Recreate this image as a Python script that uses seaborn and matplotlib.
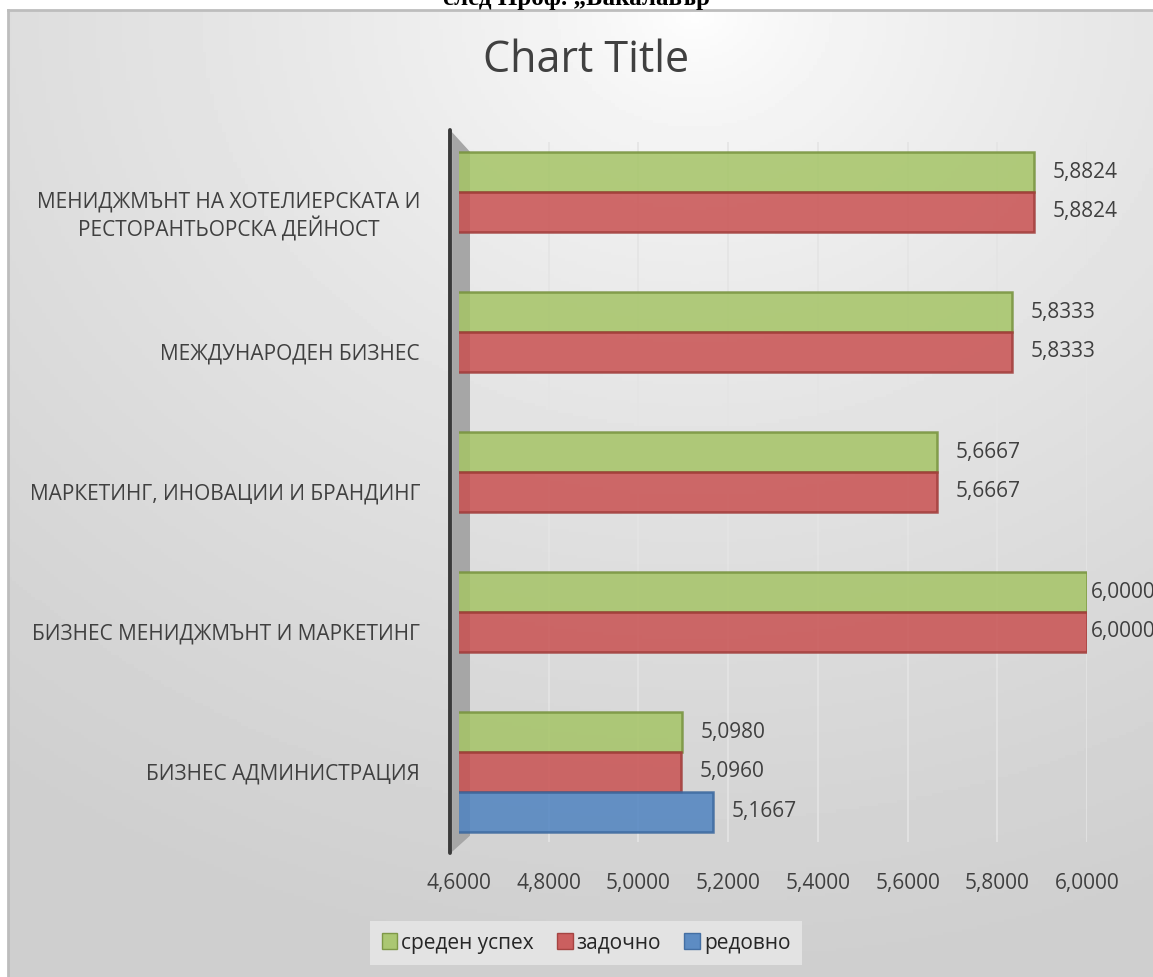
# ==============================
# SETUP
# ==============================
import numpy as np
import pandas as pd
import matplotlib
matplotlib.use("Agg")
import matplotlib.pyplot as plt
from matplotlib.patches import Patch, Polygon
from matplotlib.lines import Line2D
import seaborn as sns

sns.set_style("white")
plt.rcParams["font.family"] = ["Open Sans", "DejaVu Sans"]

# ==============================
# DATA
# ==============================
programs = [
    "МЕНИДЖМЪНТ НА ХОТЕЛИЕРСКАТА И\nРЕСТОРАНТЬОРСКА ДЕЙНОСТ",
    "МЕЖДУНАРОДЕН БИЗНЕС",
    "МАРКЕТИНГ, ИНОВАЦИИ И БРАНДИНГ",
    "БИЗНЕС МЕНИДЖМЪНТ И МАРКЕТИНГ",
    "БИЗНЕС АДМИНИСТРАЦИЯ",
]
sreden_uspeh = [5.8824, 5.8333, 5.6667, 6.0000, 5.0980]
zadochno = [5.8824, 5.8333, 5.6667, 6.0000, 5.0960]
redovno = [np.nan, np.nan, np.nan, np.nan, 5.1667]

series_names = ["среден успех", "задочно", "редовно"]
x_ticks = [4.6, 4.8, 5.0, 5.2, 5.4, 5.6, 5.8, 6.0]

colors = {"среден успех": "#a5c466", "задочно": "#c95151", "редовно": "#4f83c0"}
edges = {"среден успех": "#76923c", "задочно": "#a03a38", "редовно": "#3a679e"}

rows = []
for name, vals in zip(series_names, [sreden_uspeh, zadochno, redovno]):
    for prog, v in zip(programs, vals):
        rows.append({"program": prog, "form": name, "score": v})
df = pd.DataFrame(rows).dropna()

def fmt_bg(v):
    return f"{v:.4f}".replace(".", ",")

# ==============================
# FIGURE + BACKGROUND
# ==============================
W, H = 1153, 977
fig = plt.figure(figsize=(W / 100, H / 100), dpi=100)

# cut-off heading from the page above the chart
fig.text(0.5, 1 - 5 / H, "след Проф. „Бакалавър", ha="center", va="baseline",
         fontsize=18, fontweight="bold", family=["Liberation Serif", "DejaVu Serif"],
         color="black")

bg = fig.add_axes([8 / W, 0, 1 - 8 / W, 1 - 10 / H], zorder=-5)
gx, gy = np.meshgrid(np.linspace(0, 1, 300), np.linspace(0, 1, 300))
d = np.sqrt(((gx - 0.6) / 1.0) ** 2 + ((gy - 1.0) / 1.0) ** 2)
shade = 1 - 0.19 * np.clip(d, 0, 1) ** 0.7
bg.imshow(shade, cmap="gray", vmin=0, vmax=1, origin="lower", aspect="auto",
          extent=[0, 1, 0, 1])
bg.set_xticks([])
bg.set_yticks([])
for side in ["right", "bottom"]:
    bg.spines[side].set_visible(False)
for side in ["top", "left"]:
    bg.spines[side].set_color("#bdbdbd")
    bg.spines[side].set_linewidth(2)

fig.text(586 / W, 1 - 61 / H, "Chart Title", ha="center", va="center",
         fontsize=31, color="#404040")

# ==============================
# BARS
# ==============================
ax = fig.add_axes([459 / W, 1 - 842 / H, 628 / W, 700 / H])
ax.patch.set_alpha(0)

sns.barplot(data=df, y="program", x="score", hue="form", order=programs,
            hue_order=series_names, orient="h", width=0.857, errorbar=None,
            palette=colors, saturation=1, alpha=0.85, ax=ax, zorder=3)
ax.legend_.remove()

for cont, name in zip(ax.containers, series_names):
    for bar in cont:
        bar.set_edgecolor(edges[name])
        bar.set_linewidth(1.8)
    anns = ax.bar_label(cont, fmt=fmt_bg, padding=13, fontsize=15,
                        color="#404040", clip_on=False)
    # labels of the bars that reach the axis end sit tight against the bar
    for bar, ann in zip(cont, anns):
        if bar.get_width() >= 6.0:
            ann.xyann = (3, 0)

ax.set_xlim(4.6, 6.0)
ax.set_xticks(x_ticks)
ax.set_xticklabels([fmt_bg(t) for t in x_ticks])
ax.set_xlabel("")
ax.set_ylabel("")
ax.tick_params(axis="x", length=0, pad=22, labelsize=15, labelcolor="#404040")
ax.tick_params(axis="y", length=0, pad=28, labelsize=15, labelcolor="#404040")
for lbl in ax.get_yticklabels():
    lbl.set_multialignment("center")
for s in ax.spines.values():
    s.set_visible(False)
ax.grid(axis="x", color="#e4e4e4", linewidth=1.2, zorder=0)
ax.set_axisbelow(True)

# left side wall of the 3D frame
wall = Polygon([(-0.011, 1.014), (0.0175, 0.986), (0.0175, 0.009), (-0.011, -0.014)],
               closed=True, transform=ax.transAxes, facecolor="#a6a6a6",
               edgecolor="none", zorder=1, clip_on=False)
ax.add_patch(wall)
ax.add_line(Line2D([-0.0143, -0.0143], [1.017, -0.016], transform=ax.transAxes,
                   color="#3a3a3a", linewidth=2.8, solid_capstyle="round",
                   zorder=2, clip_on=False))

# ==============================
# LEGEND
# ==============================
handles = [Patch(facecolor=colors[n], edgecolor=edges[n], alpha=0.9, label=n)
           for n in series_names]
leg = fig.legend(handles=handles, loc="center", ncol=3,
                 bbox_to_anchor=(586 / W, 1 - 943 / H), frameon=True,
                 fontsize=15, handlelength=0.75, handleheight=0.8,
                 handletextpad=0.2, columnspacing=1.1, borderpad=0.55,
                 borderaxespad=0, fancybox=False, labelcolor="#262626")
leg.get_frame().set_facecolor("#e3e3e3")
leg.get_frame().set_edgecolor("none")
leg.get_frame().set_alpha(1)

fig.savefig("out.png", dpi=100)
